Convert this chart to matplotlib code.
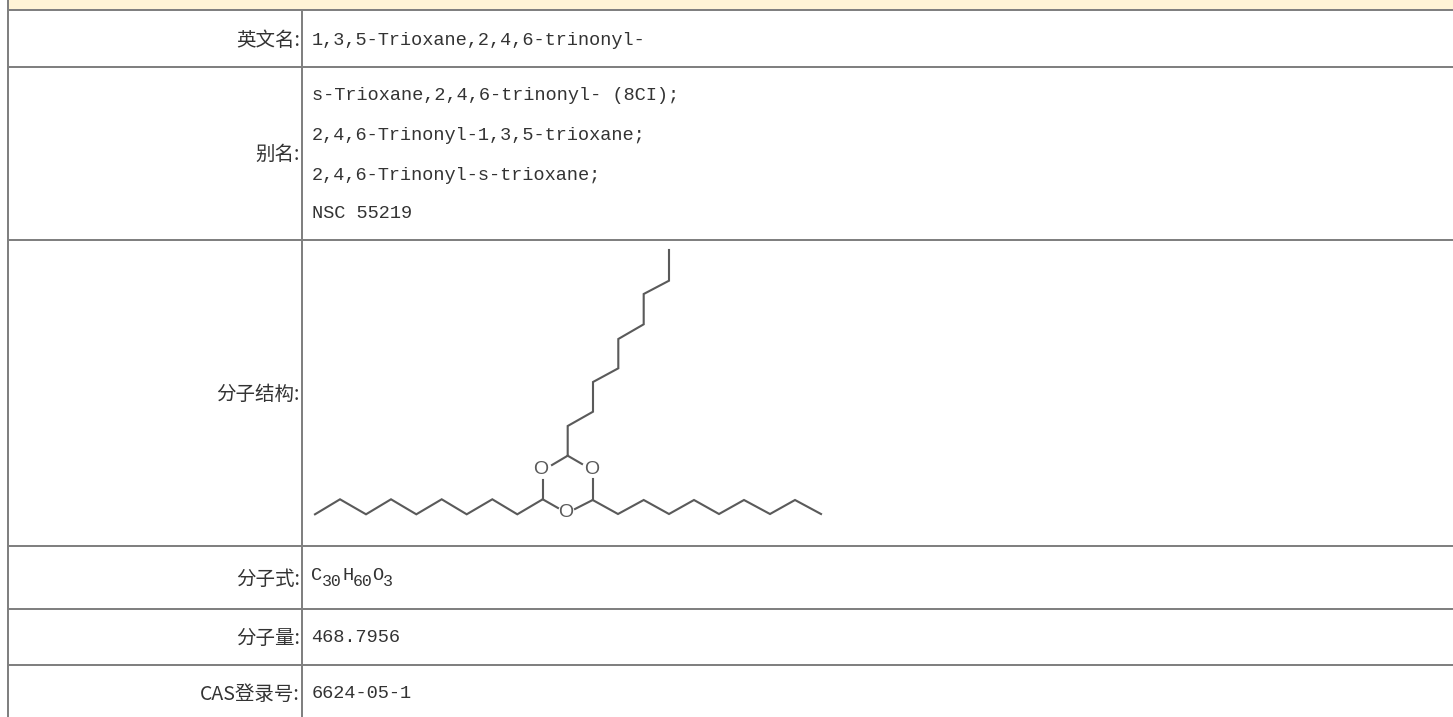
import matplotlib
matplotlib.use("Agg")
import matplotlib.pyplot as plt

W, H = 1453, 717

row_lines = [10, 66.5, 239.5, 545.5, 609, 664.5]
col_lines = [8, 302]

labels = ["英文名:", "别名:", "分子结构:", "分子式:", "分子量:", "CAS登录号:"]
label_y = [40, 154, 394, 579, 638, 694]

values = ["1,3,5-Trioxane,2,4,6-trinonyl-",
          "s-Trioxane,2,4,6-trinonyl- (8CI);",
          "2,4,6-Trinonyl-1,3,5-trioxane;",
          "2,4,6-Trinonyl-s-trioxane;",
          "NSC 55219",
          "468.7956",
          "6624-05-1"]
value_y = [40.5, 96, 136, 175, 213, 638, 694]

formula_parts = ["C", "30", "H", "60", "O", "3"]

# molecule drawing
chain_left_x = [315, 340, 366, 391, 416.3, 441.7, 466.7, 492.3, 517.3, 542.7]
chain_left_y = [514.3, 499.3, 514.3, 499.3, 514.3, 499.3, 514.3, 499.3, 514.3, 499.3]
chain_right_x = [592.7, 618, 643.7, 669, 694, 719, 744, 770, 795, 821]
chain_right_y = [500, 514, 500, 514, 500, 514, 500, 514, 500, 514]
chain_up_x = [669, 669, 643.7, 643.7, 618.3, 618.3, 593, 593, 567.7, 567.7]
chain_up_y = [250, 280.7, 294, 324.3, 339, 368.3, 382, 411.7, 426, 455.7]
ring_bonds = [((542.7, 499.3), (542.7, 479.5)),
              ((567.7, 455.7), (552, 465)),
              ((567.7, 455.7), (582, 464)),
              ((592.7, 500), (592.7, 478.5)),
              ((592.7, 500), (575, 509)),
              ((542.7, 499.3), (558, 508))]
oxygen_x = [540.7, 591.7, 566]
oxygen_y = [469, 469, 512.3]

grid_color = "#808080"
text_color = "#333333"
bond_color = "#5a5a5a"
cjk = ["Noto Sans CJK SC", "DejaVu Sans"]
mono = "Liberation Mono"
px = 72 / 100

fig = plt.figure(figsize=(W / 100, H / 100), dpi=100)
ax = fig.add_axes([0, 0, 1, 1])
ax.set_xlim(0, W)
ax.set_ylim(H, 0)
ax.axis("off")

# yellow header strip
ax.fill_between([9, W], 0, 9.5, color="#FFF4D6", lw=0)

ax.hlines(row_lines, col_lines[0], W, color=grid_color, lw=2 * px)
ax.vlines(col_lines[0], 0, H, color=grid_color, lw=2 * px)
ax.vlines(col_lines[1], row_lines[0], H, color=grid_color, lw=2 * px)

for lab, y in zip(labels, label_y):
    ax.text(300, y, lab, family=cjk, fontsize=19.5 * px, color=text_color,
            ha="right", va="center")

for val, y in zip(values, value_y):
    ax.text(311.5, y, val, family=mono, fontsize=18.6 * px, color=text_color,
            ha="left", va="center")

# formula with subscripts, one piece after another
x = 311.5
for part in formula_parts:
    if part.isdigit():
        ax.text(x, 582, part, family=mono, fontsize=16.5 * px, color=text_color,
                ha="left", va="center")
        x += 10 * len(part)
    else:
        ax.text(x, 575, part, family=mono, fontsize=18.6 * px, color=text_color,
                ha="left", va="center")
        x += 10.5

for xs, ys in [(chain_left_x, chain_left_y), (chain_right_x, chain_right_y),
               (chain_up_x, chain_up_y)]:
    ax.plot(xs, ys, color=bond_color, lw=2.1 * px, solid_joinstyle="miter")
for a, b in ring_bonds:
    ax.plot([a[0], b[0]], [a[1], b[1]], color=bond_color, lw=2.1 * px)
for ox, oy in zip(oxygen_x, oxygen_y):
    ax.text(ox, oy, "O", family="Liberation Sans", fontsize=19.5 * px,
            color=bond_color, ha="center", va="center")

fig.savefig("out.png", dpi=100)
